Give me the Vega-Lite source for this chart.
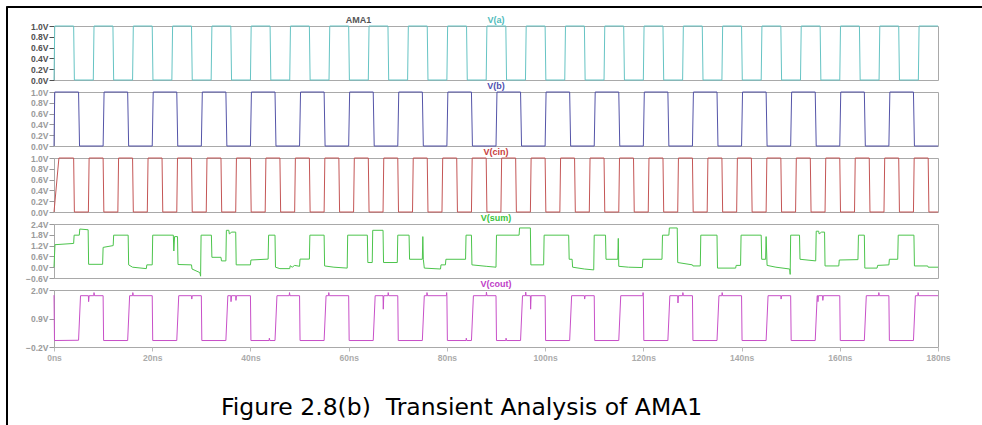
{
  "$schema": "https://vega.github.io/schema/vega-lite/v6.json",
  "background": "white",
  "padding": {"left": 5, "top": 5, "right": 0, "bottom": 0},
  "title": {
    "text": "Figure 2.8(b)\u00a0 Transient Analysis of AMA1",
    "orient": "bottom", "anchor": "start", "frame": "group",
    "dx": 215, "offset": -12, "baseline": "alphabetic",
    "font": "DejaVu Sans", "fontSize": 23.5,
    "fontWeight": "normal", "color": "#000000"
  },
  "datasets": {
    "va": [
      {"t":0,"v":0},{"t":0.15,"v":1},{"t":4,"v":1},{"t":4.15,"v":0},{"t":8,"v":0},{"t":8.15,"v":1},{"t":12,"v":1},{"t":12.15,"v":0},{"t":16,"v":0},{"t":16.15,"v":1},{"t":20,"v":1},{"t":20.15,"v":0},{"t":24,"v":0},{"t":24.15,"v":1},{"t":28,"v":1},{"t":28.15,"v":0},{"t":32,"v":0},{"t":32.15,"v":1},{"t":36,"v":1},{"t":36.15,"v":0},{"t":40,"v":0},{"t":40.15,"v":1},{"t":44,"v":1},{"t":44.15,"v":0},{"t":48,"v":0},{"t":48.15,"v":1},{"t":52,"v":1},{"t":52.15,"v":0},{"t":56,"v":0},{"t":56.15,"v":1},{"t":60,"v":1},{"t":60.15,"v":0},{"t":64,"v":0},{"t":64.15,"v":1},{"t":68,"v":1},{"t":68.15,"v":0},{"t":72,"v":0},{"t":72.15,"v":1},{"t":76,"v":1},{"t":76.15,"v":0},{"t":80,"v":0},{"t":80.15,"v":1},{"t":84,"v":1},{"t":84.15,"v":0},{"t":88,"v":0},{"t":88.15,"v":1},{"t":92,"v":1},{"t":92.15,"v":0},{"t":96,"v":0},{"t":96.15,"v":1},{"t":100,"v":1},{"t":100.15,"v":0},{"t":104,"v":0},{"t":104.15,"v":1},{"t":108,"v":1},{"t":108.15,"v":0},{"t":112,"v":0},{"t":112.15,"v":1},{"t":116,"v":1},{"t":116.15,"v":0},{"t":120,"v":0},{"t":120.15,"v":1},{"t":124,"v":1},{"t":124.15,"v":0},{"t":128,"v":0},{"t":128.15,"v":1},{"t":132,"v":1},{"t":132.15,"v":0},{"t":136,"v":0},{"t":136.15,"v":1},{"t":140,"v":1},{"t":140.15,"v":0},{"t":144,"v":0},{"t":144.15,"v":1},{"t":148,"v":1},{"t":148.15,"v":0},{"t":152,"v":0},{"t":152.15,"v":1},{"t":156,"v":1},{"t":156.15,"v":0},{"t":160,"v":0},{"t":160.15,"v":1},{"t":164,"v":1},{"t":164.15,"v":0},{"t":168,"v":0},{"t":168.15,"v":1},{"t":172,"v":1},{"t":172.15,"v":0},{"t":176,"v":0},{"t":176.15,"v":1},{"t":180,"v":1}
    ],
    "vb": [
      {"t":0,"v":0},{"t":0.15,"v":1},{"t":5,"v":1},{"t":5.2,"v":0},{"t":10,"v":0},{"t":10.2,"v":1},{"t":15,"v":1},{"t":15.2,"v":0},{"t":20,"v":0},{"t":20.2,"v":1},{"t":25,"v":1},{"t":25.2,"v":0},{"t":30,"v":0},{"t":30.2,"v":1},{"t":35,"v":1},{"t":35.2,"v":0},{"t":40,"v":0},{"t":40.2,"v":1},{"t":45,"v":1},{"t":45.2,"v":0},{"t":50,"v":0},{"t":50.2,"v":1},{"t":55,"v":1},{"t":55.2,"v":0},{"t":60,"v":0},{"t":60.2,"v":1},{"t":65,"v":1},{"t":65.2,"v":0},{"t":70,"v":0},{"t":70.2,"v":1},{"t":75,"v":1},{"t":75.2,"v":0},{"t":80,"v":0},{"t":80.2,"v":1},{"t":85,"v":1},{"t":85.2,"v":0},{"t":90,"v":0},{"t":90.2,"v":1},{"t":95,"v":1},{"t":95.2,"v":0},{"t":100,"v":0},{"t":100.2,"v":1},{"t":105,"v":1},{"t":105.2,"v":0},{"t":110,"v":0},{"t":110.2,"v":1},{"t":115,"v":1},{"t":115.2,"v":0},{"t":120,"v":0},{"t":120.2,"v":1},{"t":125,"v":1},{"t":125.2,"v":0},{"t":130,"v":0},{"t":130.2,"v":1},{"t":135,"v":1},{"t":135.2,"v":0},{"t":140,"v":0},{"t":140.2,"v":1},{"t":145,"v":1},{"t":145.2,"v":0},{"t":150,"v":0},{"t":150.2,"v":1},{"t":155,"v":1},{"t":155.2,"v":0},{"t":160,"v":0},{"t":160.2,"v":1},{"t":165,"v":1},{"t":165.2,"v":0},{"t":170,"v":0},{"t":170.2,"v":1},{"t":175,"v":1},{"t":175.2,"v":0},{"t":180,"v":0}
    ],
    "vcin": [
      {"t":0,"v":0},{"t":1,"v":1},{"t":4,"v":1},{"t":4.15,"v":0},{"t":7,"v":0},{"t":7.15,"v":1},{"t":10,"v":1},{"t":10.15,"v":0},{"t":13,"v":0},{"t":13.15,"v":1},{"t":16,"v":1},{"t":16.15,"v":0},{"t":19,"v":0},{"t":19.15,"v":1},{"t":22,"v":1},{"t":22.15,"v":0},{"t":25,"v":0},{"t":25.15,"v":1},{"t":28,"v":1},{"t":28.15,"v":0},{"t":31,"v":0},{"t":31.15,"v":1},{"t":34,"v":1},{"t":34.15,"v":0},{"t":37,"v":0},{"t":37.15,"v":1},{"t":40,"v":1},{"t":40.15,"v":0},{"t":43,"v":0},{"t":43.15,"v":1},{"t":46,"v":1},{"t":46.15,"v":0},{"t":49,"v":0},{"t":49.15,"v":1},{"t":52,"v":1},{"t":52.15,"v":0},{"t":55,"v":0},{"t":55.15,"v":1},{"t":58,"v":1},{"t":58.15,"v":0},{"t":61,"v":0},{"t":61.15,"v":1},{"t":64,"v":1},{"t":64.15,"v":0},{"t":67,"v":0},{"t":67.15,"v":1},{"t":70,"v":1},{"t":70.15,"v":0},{"t":73,"v":0},{"t":73.15,"v":1},{"t":76,"v":1},{"t":76.15,"v":0},{"t":79,"v":0},{"t":79.15,"v":1},{"t":82,"v":1},{"t":82.15,"v":0},{"t":85,"v":0},{"t":85.15,"v":1},{"t":88,"v":1},{"t":88.15,"v":0},{"t":91,"v":0},{"t":91.15,"v":1},{"t":94,"v":1},{"t":94.15,"v":0},{"t":97,"v":0},{"t":97.15,"v":1},{"t":100,"v":1},{"t":100.15,"v":0},{"t":103,"v":0},{"t":103.15,"v":1},{"t":106,"v":1},{"t":106.15,"v":0},{"t":109,"v":0},{"t":109.15,"v":1},{"t":112,"v":1},{"t":112.15,"v":0},{"t":115,"v":0},{"t":115.15,"v":1},{"t":118,"v":1},{"t":118.15,"v":0},{"t":121,"v":0},{"t":121.15,"v":1},{"t":124,"v":1},{"t":124.15,"v":0},{"t":127,"v":0},{"t":127.15,"v":1},{"t":130,"v":1},{"t":130.15,"v":0},{"t":133,"v":0},{"t":133.15,"v":1},{"t":136,"v":1},{"t":136.15,"v":0},{"t":139,"v":0},{"t":139.15,"v":1},{"t":142,"v":1},{"t":142.15,"v":0},{"t":145,"v":0},{"t":145.15,"v":1},{"t":148,"v":1},{"t":148.15,"v":0},{"t":151,"v":0},{"t":151.15,"v":1},{"t":154,"v":1},{"t":154.15,"v":0},{"t":157,"v":0},{"t":157.15,"v":1},{"t":160,"v":1},{"t":160.15,"v":0},{"t":163,"v":0},{"t":163.15,"v":1},{"t":166,"v":1},{"t":166.15,"v":0},{"t":169,"v":0},{"t":169.15,"v":1},{"t":172,"v":1},{"t":172.15,"v":0},{"t":175,"v":0},{"t":175.15,"v":1},{"t":178,"v":1},{"t":178.15,"v":0},{"t":180,"v":0}
    ],
    "vsum": [
      {"t":0,"v":0},{"t":0.2,"v":1.25},{"t":4,"v":1.32},{"t":4.1,"v":1.78},{"t":5.15,"v":1.78},{"t":5.25,"v":2.12},{"t":6.95,"v":2.08},{"t":7.05,"v":0.16},{"t":9.9,"v":0.16},{"t":10,"v":1.1},{"t":11,"v":1.15},{"t":12.05,"v":1.2},{"t":12.15,"v":1.78},{"t":15.1,"v":1.78},{"t":15.2,"v":0.13},{"t":16,"v":0},{"t":18.8,"v":-0.08},{"t":18.9,"v":0.13},{"t":20,"v":0.13},{"t":20.1,"v":1.78},{"t":24.3,"v":1.78},{"t":24.4,"v":0.9},{"t":24.55,"v":1.7},{"t":25.15,"v":1.7},{"t":25.25,"v":0.15},{"t":28,"v":0.13},{"t":28.1,"v":-0.1},{"t":29.7,"v":-0.3},{"t":29.85,"v":-0.5},{"t":29.95,"v":1.78},{"t":32.05,"v":1.78},{"t":32.15,"v":0.55},{"t":34,"v":0.55},{"t":34.1,"v":0.35},{"t":35,"v":0.35},{"t":35.1,"v":2.05},{"t":35.6,"v":2.05},{"t":35.7,"v":1.85},{"t":36.2,"v":1.95},{"t":37,"v":1.95},{"t":37.1,"v":0.13},{"t":40,"v":0.13},{"t":40.1,"v":0.4},{"t":43.6,"v":0.45},{"t":43.7,"v":1.78},{"t":45,"v":1.78},{"t":45.1,"v":0},{"t":46,"v":-0.08},{"t":48,"v":-0.08},{"t":48.1,"v":0.08},{"t":48.5,"v":0},{"t":49,"v":0.1},{"t":50,"v":0.05},{"t":50.1,"v":0.45},{"t":52,"v":0.45},{"t":52.1,"v":1.78},{"t":55,"v":1.78},{"t":55.1,"v":0.07},{"t":57,"v":0},{"t":59.7,"v":-0.05},{"t":59.8,"v":1.78},{"t":63.8,"v":1.78},{"t":63.9,"v":0.26},{"t":64.8,"v":0.26},{"t":64.9,"v":2.05},{"t":67,"v":2.05},{"t":67.1,"v":0.26},{"t":69.9,"v":0.26},{"t":70,"v":1.78},{"t":72.3,"v":1.78},{"t":72.4,"v":0.44},{"t":75,"v":0.44},{"t":75.1,"v":1.7},{"t":75.2,"v":0.44},{"t":75.4,"v":-0.05},{"t":78.7,"v":-0.1},{"t":78.8,"v":0.13},{"t":79.7,"v":0.13},{"t":79.8,"v":0.44},{"t":83.8,"v":0.44},{"t":83.9,"v":1.78},{"t":85,"v":1.78},{"t":85.1,"v":0.13},{"t":88,"v":0.05},{"t":90,"v":0},{"t":90.1,"v":1.78},{"t":94.7,"v":1.78},{"t":94.8,"v":2.18},{"t":97,"v":2.18},{"t":97.1,"v":0.13},{"t":99.7,"v":0.13},{"t":99.8,"v":1.78},{"t":104.8,"v":1.78},{"t":104.9,"v":0.44},{"t":105.5,"v":0.44},{"t":105.6,"v":0},{"t":108,"v":-0.1},{"t":109.9,"v":-0.15},{"t":110,"v":1.78},{"t":112.3,"v":1.78},{"t":112.4,"v":0.44},{"t":114.8,"v":0.44},{"t":114.9,"v":1.6},{"t":115,"v":0.05},{"t":117,"v":0},{"t":119.8,"v":-0.02},{"t":119.9,"v":0.44},{"t":123.8,"v":0.44},{"t":123.9,"v":1.78},{"t":125.2,"v":1.78},{"t":125.3,"v":2.18},{"t":126.9,"v":2.18},{"t":127,"v":0.26},{"t":130,"v":0.13},{"t":130.1,"v":0.07},{"t":131.6,"v":0.07},{"t":131.7,"v":1.78},{"t":135,"v":1.78},{"t":135.1,"v":-0.05},{"t":138.8,"v":-0.05},{"t":138.9,"v":0.1},{"t":139.8,"v":0.1},{"t":139.9,"v":1.78},{"t":144,"v":1.78},{"t":144.1,"v":0.44},{"t":144.9,"v":0.44},{"t":145,"v":1.7},{"t":145.2,"v":0.1},{"t":147,"v":0},{"t":149.8,"v":-0.1},{"t":149.9,"v":-0.4},{"t":150,"v":1.78},{"t":151.8,"v":1.78},{"t":151.9,"v":0.44},{"t":155.1,"v":0.35},{"t":155.2,"v":2},{"t":155.7,"v":2},{"t":155.8,"v":1.85},{"t":156.3,"v":1.95},{"t":156.9,"v":1.95},{"t":157,"v":0.07},{"t":159.8,"v":0.07},{"t":159.9,"v":0.4},{"t":163.7,"v":0.42},{"t":163.8,"v":1.78},{"t":165,"v":1.78},{"t":165.1,"v":-0.05},{"t":167.6,"v":-0.05},{"t":167.7,"v":0.1},{"t":170,"v":0.13},{"t":170.1,"v":0.44},{"t":171.8,"v":0.44},{"t":171.9,"v":1.78},{"t":175.1,"v":1.78},{"t":175.2,"v":0.07},{"t":177.9,"v":0.07},{"t":178,"v":0},{"t":180,"v":0}
    ],
    "vcout": [
      {"t":0,"v":1.8},{"t":0.1,"v":0.05},{"t":4.9,"v":0.06},{"t":5,"v":0.06},{"t":5.4,"v":1.78},{"t":7,"v":1.78},{"t":7.05,"v":1.55},{"t":7.15,"v":1.78},{"t":8.1,"v":1.78},{"t":8.15,"v":1.9},{"t":8.25,"v":1.78},{"t":10,"v":1.78},{"t":10.1,"v":0.05},{"t":15,"v":0.05},{"t":15.4,"v":1.78},{"t":16,"v":1.78},{"t":16.05,"v":1.9},{"t":16.15,"v":1.78},{"t":20,"v":1.78},{"t":20.1,"v":0.05},{"t":25,"v":0.05},{"t":25.4,"v":1.78},{"t":28,"v":1.78},{"t":28.05,"v":1.65},{"t":28.15,"v":1.78},{"t":30,"v":1.78},{"t":30.1,"v":0.05},{"t":35,"v":0.05},{"t":35.4,"v":1.78},{"t":36,"v":1.78},{"t":36.05,"v":1.55},{"t":36.15,"v":1.78},{"t":37,"v":1.78},{"t":37.05,"v":1.6},{"t":37.15,"v":1.78},{"t":40,"v":1.78},{"t":40.1,"v":0.05},{"t":43.8,"v":0.05},{"t":43.85,"v":0.14},{"t":43.95,"v":0.05},{"t":45,"v":0.05},{"t":45.4,"v":1.78},{"t":47.9,"v":1.78},{"t":47.95,"v":1.9},{"t":48.05,"v":1.78},{"t":50,"v":1.78},{"t":50.1,"v":0.05},{"t":55,"v":0.05},{"t":55.4,"v":1.78},{"t":55.9,"v":1.78},{"t":55.95,"v":1.9},{"t":56.05,"v":1.78},{"t":60,"v":1.78},{"t":60.1,"v":0.05},{"t":65,"v":0.05},{"t":65.4,"v":1.78},{"t":67,"v":1.78},{"t":67.05,"v":1.26},{"t":67.15,"v":1.78},{"t":68,"v":1.78},{"t":68.05,"v":1.9},{"t":68.15,"v":1.78},{"t":70,"v":1.78},{"t":70.1,"v":0.05},{"t":75,"v":0.05},{"t":75.4,"v":1.78},{"t":75.9,"v":1.78},{"t":75.95,"v":1.9},{"t":76.05,"v":1.78},{"t":79.9,"v":1.78},{"t":79.95,"v":1.9},{"t":80,"v":1.78},{"t":80.1,"v":0.05},{"t":83.9,"v":0.05},{"t":83.95,"v":0.14},{"t":84.05,"v":0.05},{"t":85,"v":0.05},{"t":85.4,"v":1.78},{"t":88,"v":1.78},{"t":88.05,"v":1.92},{"t":88.15,"v":1.78},{"t":90,"v":1.78},{"t":90.1,"v":0.05},{"t":92,"v":0.05},{"t":92.05,"v":0.14},{"t":92.15,"v":0.05},{"t":95,"v":0.05},{"t":95.4,"v":1.78},{"t":96,"v":1.78},{"t":96.05,"v":1.92},{"t":96.15,"v":1.78},{"t":97,"v":1.78},{"t":97.05,"v":1.26},{"t":97.15,"v":1.78},{"t":100,"v":1.78},{"t":100.1,"v":0.05},{"t":105,"v":0.05},{"t":105.4,"v":1.78},{"t":108,"v":1.78},{"t":108.05,"v":1.65},{"t":108.15,"v":1.78},{"t":110,"v":1.78},{"t":110.1,"v":0.05},{"t":115,"v":0.05},{"t":115.4,"v":1.78},{"t":119.9,"v":1.78},{"t":119.95,"v":1.9},{"t":120,"v":1.78},{"t":120.1,"v":0.05},{"t":125,"v":0.05},{"t":125.4,"v":1.78},{"t":127,"v":1.78},{"t":127.05,"v":1.5},{"t":127.15,"v":1.78},{"t":128,"v":1.78},{"t":128.05,"v":1.9},{"t":128.15,"v":1.78},{"t":130,"v":1.78},{"t":130.1,"v":0.05},{"t":135,"v":0.05},{"t":135.4,"v":1.78},{"t":136,"v":1.78},{"t":136.05,"v":1.9},{"t":136.15,"v":1.78},{"t":140,"v":1.78},{"t":140.1,"v":0.05},{"t":145,"v":0.05},{"t":145.4,"v":1.78},{"t":148,"v":1.78},{"t":148.05,"v":1.65},{"t":148.15,"v":1.78},{"t":150,"v":1.78},{"t":150.1,"v":0.05},{"t":155,"v":0.05},{"t":155.4,"v":1.78},{"t":155.5,"v":1.78},{"t":155.55,"v":1.55},{"t":155.65,"v":1.78},{"t":156.5,"v":1.78},{"t":156.55,"v":1.6},{"t":156.65,"v":1.78},{"t":160,"v":1.78},{"t":160.1,"v":0.05},{"t":165,"v":0.05},{"t":165.4,"v":1.78},{"t":167.9,"v":1.78},{"t":167.95,"v":1.9},{"t":168.05,"v":1.78},{"t":170,"v":1.78},{"t":170.1,"v":0.05},{"t":175,"v":0.05},{"t":175.4,"v":1.78},{"t":175.9,"v":1.78},{"t":175.95,"v":1.9},{"t":176.05,"v":1.78},{"t":180,"v":1.78}
    ]
  },
  "spacing": 0,
  "bounds": "flush",
  "hconcat": [
    {
      "width": 1, "height": 420,
      "data": {"values": []},
      "mark": "point", "encoding": {},
      "view": {"fill": "#000000", "stroke": "#000000", "strokeWidth": 1}
    },
    {
      "spacing": 19,
      "bounds": "flush",
      "vconcat": [
        {
          "width": 977, "height": 1,
          "data": {"values": []},
          "mark": "point", "encoding": {},
          "view": {"fill": "#000000", "stroke": "#000000", "strokeWidth": 1}
        },
        {
          "spacing": 0,
          "bounds": "flush",
          "hconcat": [
            {
              "width": 47, "height": 1,
              "data": {"values": []},
              "mark": "point", "encoding": {},
              "view": {"stroke": null, "fill": null}
            },
            {
              "spacing": 12,
              "bounds": "flush",
              "vconcat": [
                {
                  "width": 884, "height": 54,
                  "layer": [
                    {
                      "data": {"name": "va"},
                      "mark": {"type": "line", "color": "#66c4c4", "strokeWidth": 1},
                      "encoding": {
                        "x": {"field": "t", "type": "quantitative", "scale": {"domain": [0, 180], "nice": false, "zero": false}, "axis": null},
                        "y": {"field": "v", "type": "quantitative", "scale": {"domain": [0, 1], "nice": false},
                          "axis": {"values": [0, 0.2, 0.4, 0.6, 0.8, 1], "tickCount": 20, "labelExpr": "format(datum.value, '.1f') + 'V'", "labelColor": "#505050", "tickColor": "#505050"}}
                      }
                    },
                    {
                      "data": {"values": [{"label": "V(a)"}]},
                      "mark": {"type": "text", "color": "#4fbcbc", "baseline": "middle", "dy": -6, "font": "Liberation Sans", "fontSize": 9, "fontWeight": "bold"},
                      "encoding": {"x": {"datum": 90}, "y": {"datum": 1}, "text": {"field": "label"}}
                    },
                    {
                      "data": {"values": [{"label": "AMA1"}]},
                      "mark": {"type": "text", "color": "#555555", "baseline": "middle", "dy": -6, "font": "Liberation Sans", "fontSize": 9, "fontWeight": "bold"},
                      "encoding": {"x": {"datum": 62}, "y": {"datum": 1}, "text": {"field": "label"}}
                    }
                  ]
                },
                {
                  "width": 884, "height": 54,
                  "layer": [
                    {
                      "data": {"name": "vb"},
                      "mark": {"type": "line", "color": "#5454a8", "strokeWidth": 1},
                      "encoding": {
                        "x": {"field": "t", "type": "quantitative", "scale": {"domain": [0, 180], "nice": false, "zero": false}, "axis": null},
                        "y": {"field": "v", "type": "quantitative", "scale": {"domain": [0, 1], "nice": false},
                          "axis": {"values": [0, 0.2, 0.4, 0.6, 0.8, 1], "tickCount": 20, "labelExpr": "format(datum.value, '.1f') + 'V'"}}
                      }
                    },
                    {
                      "data": {"values": [{"label": "V(b)"}]},
                      "mark": {"type": "text", "color": "#5050b0", "baseline": "middle", "dy": -6, "font": "Liberation Sans", "fontSize": 9, "fontWeight": "bold"},
                      "encoding": {"x": {"datum": 90}, "y": {"datum": 1}, "text": {"field": "label"}}
                    }
                  ]
                },
                {
                  "width": 884, "height": 54,
                  "layer": [
                    {
                      "data": {"name": "vcin"},
                      "mark": {"type": "line", "color": "#c45656", "strokeWidth": 1},
                      "encoding": {
                        "x": {"field": "t", "type": "quantitative", "scale": {"domain": [0, 180], "nice": false, "zero": false}, "axis": null},
                        "y": {"field": "v", "type": "quantitative", "scale": {"domain": [0, 1], "nice": false},
                          "axis": {"values": [0, 0.2, 0.4, 0.6, 0.8, 1], "tickCount": 20, "labelExpr": "format(datum.value, '.1f') + 'V'"}}
                      }
                    },
                    {
                      "data": {"values": [{"label": "V(cin)"}]},
                      "mark": {"type": "text", "color": "#c84040", "baseline": "middle", "dy": -6, "font": "Liberation Sans", "fontSize": 9, "fontWeight": "bold"},
                      "encoding": {"x": {"datum": 90}, "y": {"datum": 1}, "text": {"field": "label"}}
                    }
                  ]
                },
                {
                  "width": 884, "height": 54,
                  "layer": [
                    {
                      "data": {"name": "vsum"},
                      "mark": {"type": "line", "color": "#4cc44c", "strokeWidth": 1},
                      "encoding": {
                        "x": {"field": "t", "type": "quantitative", "scale": {"domain": [0, 180], "nice": false, "zero": false}, "axis": null},
                        "y": {"field": "v", "type": "quantitative", "scale": {"domain": [-0.6, 2.4], "nice": false, "zero": false},
                          "axis": {"values": [-0.6, 0, 0.6, 1.2, 1.8, 2.4], "tickCount": 20, "labelExpr": "format(datum.value, '.1f') + 'V'"}}
                      }
                    },
                    {
                      "data": {"values": [{"label": "V(sum)"}]},
                      "mark": {"type": "text", "color": "#3cc43c", "baseline": "middle", "dy": -6, "font": "Liberation Sans", "fontSize": 9, "fontWeight": "bold"},
                      "encoding": {"x": {"datum": 90}, "y": {"datum": 2.4}, "text": {"field": "label"}}
                    }
                  ]
                },
                {
                  "width": 884, "height": 57,
                  "layer": [
                    {
                      "data": {"name": "vcout"},
                      "mark": {"type": "line", "color": "#c850c8", "strokeWidth": 1},
                      "encoding": {
                        "x": {"field": "t", "type": "quantitative", "scale": {"domain": [0, 180], "nice": false, "zero": false},
                          "axis": {"values": [0, 20, 40, 60, 80, 100, 120, 140, 160, 180], "tickCount": 20, "labelExpr": "datum.value + 'ns'", "tickSize": 4, "labelPadding": 2, "labelFlush": false, "labelColor": "#ababab", "tickColor": "#bbbbbb"}},
                        "y": {"field": "v", "type": "quantitative", "scale": {"domain": [-0.2, 2.0], "nice": false, "zero": false},
                          "axis": {"values": [-0.2, 0.9, 2.0], "tickCount": 20, "labelExpr": "format(datum.value, '.1f') + 'V'"}}
                      }
                    },
                    {
                      "data": {"values": [{"label": "V(cout)"}]},
                      "mark": {"type": "text", "color": "#c040c8", "baseline": "middle", "dy": -6, "font": "Liberation Sans", "fontSize": 9, "fontWeight": "bold"},
                      "encoding": {"x": {"datum": 90}, "y": {"datum": 2.0}, "text": {"field": "label"}}
                    }
                  ]
                }
              ]
            }
          ]
        }
      ]
    }
  ],
  "config": {
    "view": {"stroke": "#a9a9a9", "strokeWidth": 1},
    "axis": {
      "grid": false, "domain": false, "title": null,
      "labelFont": "Liberation Sans", "labelFontSize": 8.5, "labelFontWeight": "bold",
      "labelColor": "#9a9a9a", "tickColor": "#9a9a9a", "tickSize": 5, "labelPadding": 1,
      "labelOverlap": false
    }
  }
}
